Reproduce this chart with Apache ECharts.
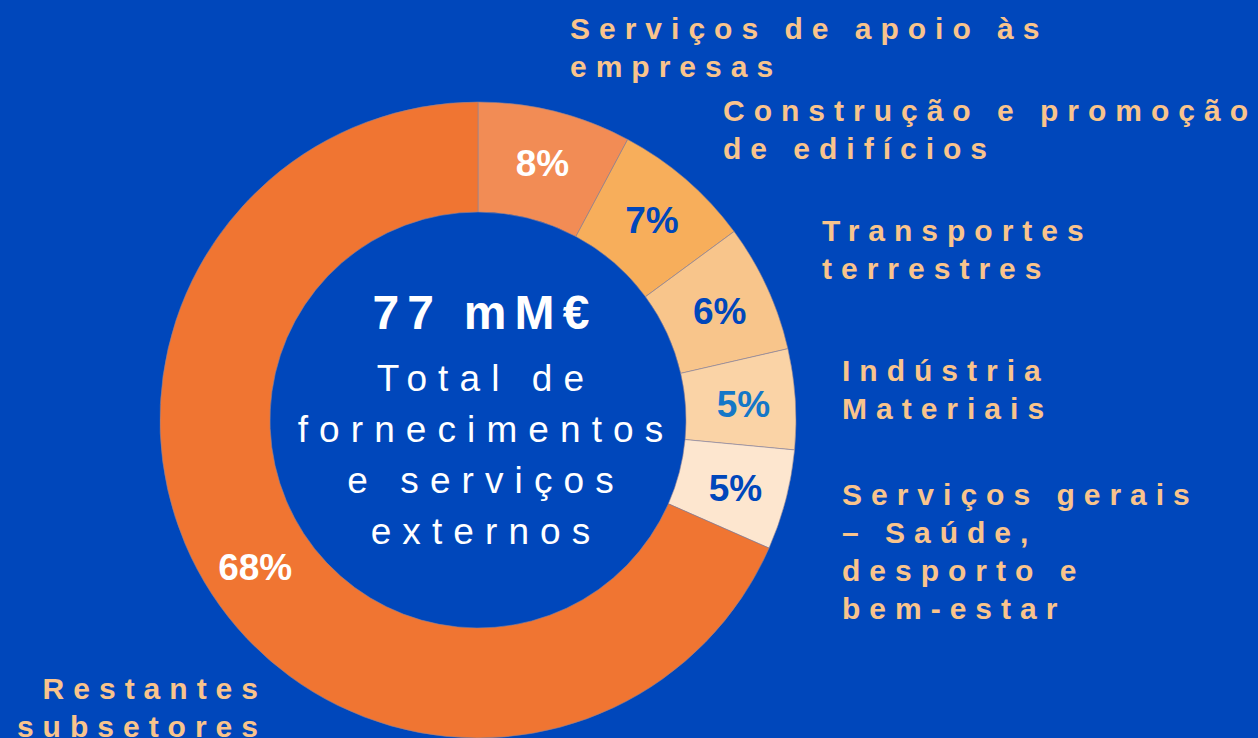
<!DOCTYPE html>
<html>
<head>
<meta charset="utf-8">
<script src="https://cdn.jsdelivr.net/npm/echarts@6/dist/echarts.min.js"></script>
<style>
  html, body { margin: 0; padding: 0; background: #0047BB; }
  #chart { width: 1258px; height: 738px; }
</style>
</head>
<body>
<div id="chart"></div>
<script>
// sectors, clockwise from 12 o'clock
const categories = [
  'Serviços de apoio às\nempresas',
  'Construção e promoção\nde edifícios',
  'Transportes\nterrestres',
  'Indústria\nMateriais',
  'Serviços gerais\n– Saúde,\ndesporto e\nbem-estar',
  'Restantes\nsubsetores'
];
const shares = [7.8, 7.1, 6.5, 5.1, 5.1, 68.4];
const shareLabels = ['8%', '7%', '6%', '5%', '5%', '68%'];
const totalLabel = '77 mM€';
const totalCaption = 'Total de\nfornecimentos\ne serviços\nexternos';

const sliceColors = ['#F28C55', '#F7AE5B', '#F8C58B', '#FAD3A6', '#FDE6CF', '#F07532'];
const pctColors = ['#FFFFFF', '#0047BB', '#0047BB', '#1477C8', '#0047BB', '#FFFFFF'];
// where each category name sits (left/right x, top y, text align)
const namePos = [
  [570, 9, 'left'],
  [723, 91, 'left'],
  [822, 211, 'left'],
  [842, 351, 'left'],
  [842, 475, 'left'],
  [267, 669, 'right']
];
const FONT = '"Liberation Sans", Arial, sans-serif';

const chart = echarts.init(document.getElementById('chart'), null, { renderer: 'svg' });

const nameTexts = categories.map((c, i) => ({
  type: 'text',
  left: namePos[i][2] === 'left' ? namePos[i][0] : null,
  right: namePos[i][2] === 'right' ? 1258 - namePos[i][0] : null,
  top: namePos[i][1],
  style: {
    text: c,
    fill: '#F9C48C',
    font: 'bold 30px ' + FONT,
    lineHeight: 38,
    textAlign: namePos[i][2]
  }
}));

const option = {
  backgroundColor: '#0047BB',
  animation: false,
  series: [{
    type: 'pie',
    center: [478, 420],
    radius: [208, 318],
    startAngle: 90,
    clockwise: true,
    silent: true,
    data: shares.map((v, i) => ({
      value: v,
      name: categories[i],
      itemStyle: { color: sliceColors[i] },
      label: { color: pctColors[i] }
    })),
    itemStyle: { borderColor: 'rgba(140,130,150,0.6)', borderWidth: 1 },
    label: {
      show: true,
      position: 'inside',
      formatter: p => shareLabels[p.dataIndex],
      fontFamily: FONT,
      fontWeight: 'bold',
      fontSize: 37,
      offset: [0, 2]
    },
    labelLine: { show: false }
  }],
  graphic: [
    ...nameTexts,
    {
      type: 'text', x: 485, y: 312,
      style: {
        text: totalLabel, fill: '#FFFFFF', font: 'bold 48px ' + FONT,
        textAlign: 'center', textVerticalAlign: 'middle'
      }
    },
    {
      type: 'text', x: 486, y: 353,
      style: {
        text: totalCaption, fill: '#FFFFFF', font: '37px ' + FONT,
        lineHeight: 51, textAlign: 'center', textVerticalAlign: 'top'
      }
    }
  ]
};

chart.setOption(option);

// the labels in the reference are letter-spaced; percentages are not
function spaceLetters() {
  chart.getDom().querySelectorAll('text').forEach(t => {
    const s = t.textContent;
    if (s.indexOf('%') >= 0) return;
    t.style.letterSpacing = s === totalLabel ? '0.17em' : '0.3em';
  });
}
chart.on('finished', spaceLetters);
setTimeout(spaceLetters, 50);
</script>
</body>
</html>
